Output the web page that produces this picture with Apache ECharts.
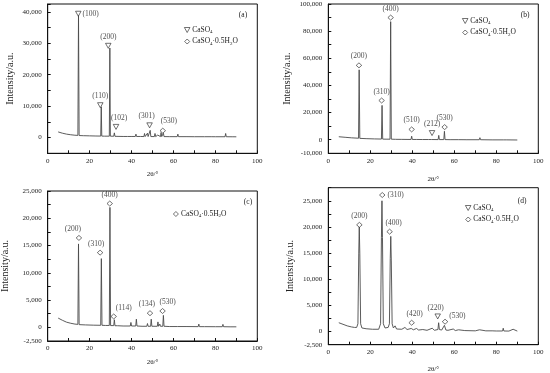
<!DOCTYPE html>
<html>
<head>
<meta charset="utf-8">
<script src="https://cdn.jsdelivr.net/npm/echarts@6/dist/echarts.min.js"></script>
<style>html,body{margin:0;padding:0;background:#fff}#c{width:550px;height:373px}</style>
</head>
<body>
<div id="c"></div>
<script>
// ---------------- DATA ----------------
const X_LABELS = [0, 20, 40, 60, 80, 100];
const Y_LABELS_A = [0, 10000, 20000, 30000, 40000];
const Y_LABELS_B = [-10000, 0, 20000, 40000, 60000, 80000, 100000];
const Y_LABELS_C = [-2500, 0, 5000, 10000, 15000, 20000, 25000];
const Y_LABELS_D = [-2500, 0, 5000, 10000, 15000, 20000, 25000];
const PANEL_TAGS = ['(a)', '(b)', '(c)', '(d)'];

// XRD patterns [2theta, intensity]
const PATTERN_A = [[5,1800],[7,1400],[9,1100],[11,900],[13,750],[14.4,700],[14.7,39000],[15.0,650],[17,600],[20,550],[23,500],[25.3,480],[25.55,9800],[25.8,470],[27,450],[29.4,450],[29.65,28500],[29.9,450],[31.5,420],[31.8,1500],[32.1,400],[32.6,380],[32.8,900],[33.0,380],[36,350],[38,350],[39.8,350],[40,700],[40.3,350],[41.8,350],[42.1,1100],[42.4,350],[44.3,350],[44.6,900],[44.9,330],[45.9,330],[46.2,1300],[46.5,330],[47.3,330],[47.6,1400],[47.9,330],[48.6,330],[48.9,2300],[49.2,330],[50.9,320],[51.2,1300],[51.5,320],[52.2,320],[52.5,800],[52.8,320],[53.8,320],[54.1,1600],[54.4,320],[54.9,320],[55.2,1400],[55.5,320],[58,300],[61.8,300],[62.1,1100],[62.4,300],[63,300],[63.3,600],[63.6,300],[66,300],[70,280],[74.8,280],[75.1,500],[75.4,280],[78,280],[80,270],[84.6,270],[84.9,1300],[85.2,270],[88,260],[90,250]];
const PATTERN_B = [[5,2200],[8,1800],[11,1400],[14.4,1100],[14.7,51500],[15.0,1000],[18,800],[22,600],[25.3,500],[25.6,25300],[25.9,450],[27.5,400],[29.4,400],[29.7,87000],[30.0,400],[32,300],[35,250],[39.4,200],[39.7,2600],[40.0,200],[41.9,200],[42.2,1200],[42.5,200],[44.8,150],[45.1,900],[45.4,150],[47.7,150],[48,1200],[48.3,150],[49.1,150],[49.4,900],[49.7,150],[52.3,100],[52.6,3200],[52.9,100],[55,100],[55.3,6200],[55.6,100],[58,50],[61.9,50],[62.2,700],[62.5,0],[66,0],[71.9,0],[72.2,1500],[72.5,0],[78,-100],[83.3,-100],[83.6,1100],[83.9,-100],[85,-100],[85.3,500],[85.6,-100],[90,-200]];
const PATTERN_C = [[5,1700],[7,1300],[9,950],[11,750],[13,600],[14.4,550],[14.7,15300],[15.0,500],[18,450],[22,400],[25.3,380],[25.6,12600],[25.9,380],[27.5,350],[29.4,350],[29.7,22000],[30.0,330],[31.5,320],[31.8,1400],[32.1,300],[32.8,300],[33.0,600],[33.3,300],[36,250],[39.4,250],[39.7,900],[40.0,250],[42,250],[42.3,1500],[42.6,250],[45,200],[47.3,200],[47.6,700],[47.9,200],[49.1,200],[49.4,1500],[49.7,200],[52.3,200],[52.6,1000],[52.9,200],[53.3,200],[53.5,600],[53.8,200],[54.9,200],[55.2,2200],[55.5,200],[58,150],[62,150],[62.3,400],[62.6,150],[66,150],[71.8,130],[72.1,600],[72.4,130],[74.8,130],[75.1,450],[75.4,130],[80,120],[83.3,120],[83.6,550],[83.9,120],[87,100],[90,100]];
const PATTERN_D = [[5,1700],[7,1400],[9,1100],[11,900],[12.5,800],[13.5,800],[14.1,1500],[14.5,15000],[14.75,20000],[15.0,15000],[15.4,1500],[16,700],[18,550],[21,450],[24,450],[24.9,1500],[25.3,18000],[25.55,25000],[25.8,18000],[26.2,1500],[27,700],[28.5,800],[29.1,1500],[29.5,14000],[29.75,18200],[30.0,13500],[30.4,1500],[31,700],[31.8,1100],[32.5,500],[35,450],[36.5,800],[37.5,400],[39.5,600],[40.5,350],[42,600],[43,300],[45,400],[47,250],[49.5,650],[50.5,250],[52.2,400],[52.55,1700],[52.9,400],[54,300],[55.3,1200],[56,300],[57,250],[59.5,500],[60.5,200],[62,350],[65,200],[70,150],[72,350],[75,150],[78,150],[80,120],[83,120],[83.3,650],[83.6,120],[86,100],[88,450],[88.5,100],[90,100]];

// Peak markers [2theta, intensity, label]
const ANHYD_A = [[14.6,39400,'(100)'],[25.1,10300,'(110)'],[28.9,29200,'(200)'],[32.6,3400,'(102)'],[48.6,3900,'(301)']];
const HEMI_A  = [[54.9,2200,'(530)']];
const ANHYD_B = [[49.4,4900,'(212)']];
const HEMI_B  = [[14.6,54800,'(200)'],[25.4,28900,'(310)'],[29.7,90000,'(400)'],[39.7,7600,'(510)'],[55.4,9300,'(530)']];
const ANHYD_C = [];
const HEMI_C  = [[14.9,16400,'(200)'],[25.0,13700,'(310)'],[29.6,22700,'(400)'],[31.5,2000,'(114)'],[48.8,2600,'(134)'],[54.8,3000,'(530)']];
const ANHYD_D = [[52.1,2900,'(220)']];
const HEMI_D  = [[14.8,20400,'(200)'],[25.7,26100,'(310)'],[29.2,19100,'(400)'],[39.7,1700,'(420)'],[55.6,1900,'(530)']];

// ---------------- STYLE ----------------
const FONT = '"Liberation Serif","Times New Roman",serif';
const TXT = '#222';
const TRI = 'path://M0,0 L10,0 L5,9 Z';
const DIA = 'path://M5,0 L10,5 L5,10 L0,5 Z';
const NAME_AN = 'CaSO4';
const NAME_HE = 'CaSO4·0.5H2O';
const HOLLOW = {color:'#fff', borderColor:'#222', borderWidth:0.8};

const LABEL_POS = {
  'a(100)': {position:'right', distance:1, offset:[0,0]},
  'a(102)': {position:'top', offset:[3,0]},
  'a(301)': {position:'top', offset:[-3,0]},
  'a(530)': {position:'top', offset:[6,-1]},
  'c(200)': {position:'top', offset:[-6,0]},
  'c(310)': {position:'top', offset:[-4,0]},
  'c(114)': {position:'top', offset:[10,0]},
  'c(134)': {position:'top', offset:[-3,0]},
  'c(530)': {position:'top', offset:[5,0]},
  'd(310)': {position:'right', distance:2, offset:[0,0]},
  'd(400)': {position:'top', offset:[4,0]},
  'd(420)': {position:'top', offset:[3,0]},
  'd(220)': {position:'top', offset:[-2,0]},
  'd(530)': {position:'right', distance:1, offset:[0,-6]}
};

const GRIDS = [
  {left:47.7, top:4, width:209.6, height:149.3},
  {left:328.3, top:4, width:210, height:149.3},
  {left:47.7, top:191, width:209.6, height:150},
  {left:328.3, top:187.7, width:210, height:157}
];
const YCFG = [
  {min:-5000, max:42500, interval:5000, labels:Y_LABELS_A, gap:32},
  {min:-10000, max:100000, interval:10000, labels:Y_LABELS_B, gap:36},
  {min:-2500, max:25000, interval:2500, labels:Y_LABELS_C, gap:37},
  {min:-2500, max:27500, interval:2500, labels:Y_LABELS_D, gap:33}
];
const XGAP = [17, 22, 18, 21];
const PATTERNS = [PATTERN_A, PATTERN_B, PATTERN_C, PATTERN_D];
const ANHYD = [ANHYD_A, ANHYD_B, ANHYD_C, ANHYD_D];
const HEMI = [HEMI_A, HEMI_B, HEMI_C, HEMI_D];
const TAG_POS = [[243,15],[525,15],[248,202],[522,201]];
const LEG_POS = [[184,26],[462,17],[173,210],[465,204]];
const PANEL_KEYS = ['a','b','c','d'];

function fmtNum(v){ return v.toLocaleString('en-US'); }

const xAxis = [], yAxis = [], series = [], legend = [], graphic = [];
GRIDS.forEach((g, i) => {
  g.show = true; g.borderColor = '#111'; g.borderWidth = 1; g.outerBoundsMode = 'none'; g.containLabel = false;
  xAxis.push({
    gridIndex:i, type:'value', min:0, max:100, interval:10,
    name:'2θ/°', nameLocation:'middle', nameGap:XGAP[i],
    nameTextStyle:{fontFamily:FONT, fontSize:7, color:TXT},
    axisLine:{show:true, onZero:false, lineStyle:{color:'#111', width:1}},
    axisTick:{show:true, inside:true, length:3, lineStyle:{color:'#111'}},
    axisLabel:{fontFamily:FONT, fontSize:7, color:TXT, margin:4,
      formatter:v => X_LABELS.includes(v) ? String(v) : ''},
    splitLine:{show:false}
  });
  const yc = YCFG[i];
  yAxis.push({
    gridIndex:i, type:'value', min:yc.min, max:yc.max, interval:yc.interval,
    name:'Intensity/a.u.', nameLocation:'middle', nameGap:yc.gap,
    nameTextStyle:{fontFamily:FONT, fontSize:10, color:TXT},
    axisLine:{show:true, onZero:false, lineStyle:{color:'#111', width:1}},
    axisTick:{show:true, inside:true, length:3, lineStyle:{color:'#111'}},
    axisLabel:{fontFamily:FONT, fontSize:7, color:TXT, margin:6,
      showMaxLabel:true, showMinLabel:true,
      formatter:v => yc.labels.includes(v) ? fmtNum(v) : ''},
    splitLine:{show:false}
  });
  series.push({
    type:'line', xAxisIndex:i, yAxisIndex:i, data:PATTERNS[i],
    showSymbol:false, symbol:'none', silent:true, z:2,
    lineStyle:{color:'#4a4a4a', width:0.9}
  });
  const key = PANEL_KEYS[i];
  const mk = (arr) => arr.map(p => {
    const lp = LABEL_POS[key + p[2]] || {position:'top', offset:[0,0]};
    return {value:[p[0], p[1]], name:p[2], label:Object.assign({}, lp)};
  });
  const scatterBase = (name, sym, arr) => ({
    type:'scatter', name:name, xAxisIndex:i, yAxisIndex:i,
    symbol:sym, symbolSize:[5.5,5], z:5,
    itemStyle:Object.assign({}, HOLLOW),
    label:{show:true, formatter:'{b}', fontFamily:FONT, fontSize:7.5, color:TXT, distance:2},
    data:mk(arr)
  });
  if (ANHYD[i].length) series.push(scatterBase(NAME_AN, TRI, ANHYD[i]));
  series.push(scatterBase(NAME_HE, DIA, HEMI[i]));

  graphic.push({type:'text', x:TAG_POS[i][0], y:TAG_POS[i][1], z:100,
    style:{text:PANEL_TAGS[i], fontFamily:FONT, fontSize:7.5, fill:TXT, align:'center', verticalAlign:'middle'}});
  legend.push({
    left:LEG_POS[i][0], top:LEG_POS[i][1], orient:'vertical', padding:0,
    itemGap:3, itemWidth:6, itemHeight:5,
    itemStyle:Object.assign({}, HOLLOW),
    data: i === 2 ? [NAME_HE] : [NAME_AN, NAME_HE],
    selectedMode:false,
    formatter: n => n === NAME_AN ? 'CaSO{s|4}' : 'CaSO{s|4}·0.5H{s|2}O',
    textStyle:{fontFamily:FONT, fontSize:7.5, color:TXT, padding:[0,0,0,-3],
      rich:{s:{fontFamily:FONT, fontSize:5, color:TXT, padding:[4,0,0,0]}}}
  });
});

const chart = echarts.init(document.getElementById('c'), null, {renderer:'canvas'});
chart.setOption({
  backgroundColor:'#fff',
  animation:false,
  legend, grid:GRIDS, xAxis, yAxis, series, graphic
});
</script>
</body>
</html>
